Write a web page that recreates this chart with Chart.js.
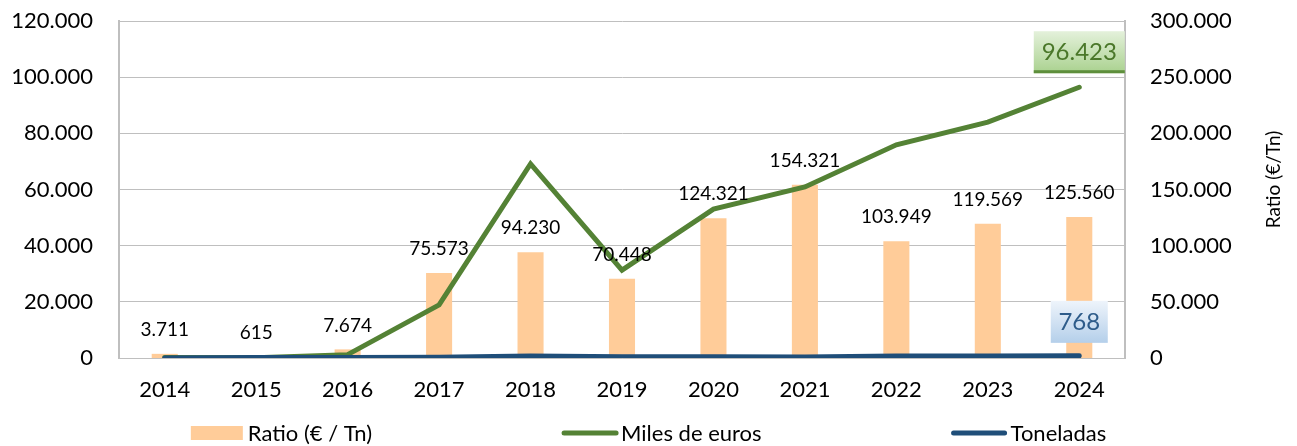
<!DOCTYPE html>
<html>
<head>
<meta charset="utf-8">
<script src="https://cdn.jsdelivr.net/npm/chart.js@4.4.1/dist/chart.umd.min.js"></script>
<style>
  html, body { margin: 0; padding: 0; background: #fff; }
  #wrap { width: 1297px; height: 446px; }
</style>
</head>
<body>
<div id="wrap"><canvas id="chart"></canvas></div>
<script>
// datos
const years = ['2014', '2015', '2016', '2017', '2018', '2019', '2020', '2021', '2022', '2023', '2024'];
const ratio = [3711, 615, 7674, 75573, 94230, 70448, 124321, 154321, 103949, 119569, 125560];
const milesEuros = [150, 100, 1200, 18900, 69100, 31300, 53000, 60900, 75900, 84000, 96423];
const toneladas = [40, 160, 156, 250, 733, 444, 426, 395, 730, 703, 768];

const FONT = 'Lato, "Liberation Sans", sans-serif';
const GRID = '#BFBFBF';
const C_BAR = '#FFCC99';
const C_EUR = '#548235';
const C_TON = '#1F4E79';

// formato con punto de miles
function fmt(v) {
  return String(Math.round(v)).replace(/\B(?=(\d{3})+(?!\d))/g, '.');
}

function drawBox(ctx, cx, cy, w, h, top, bottom, edge, textColor, text) {
  const x = cx - w / 2, y = cy - h / 2;
  const grad = ctx.createLinearGradient(0, y, 0, y + h);
  grad.addColorStop(0, top);
  grad.addColorStop(1, bottom);
  ctx.fillStyle = grad;
  ctx.fillRect(x, y, w, h);
  if (edge) {
    ctx.fillStyle = edge;
    ctx.fillRect(x, y + h - 3, w, 3);
  }
  ctx.fillStyle = textColor;
  ctx.font = '24px ' + FONT;
  ctx.textAlign = 'center';
  ctx.textBaseline = 'middle';
  ctx.fillText(text, cx, cy);
}

const labelPlugin = {
  id: 'labelPlugin',
  afterDatasetsDraw(chart) {
    const ctx = chart.ctx;
    ctx.save();
    // etiquetas de las barras
    ctx.font = '19px ' + FONT;
    ctx.fillStyle = '#000';
    ctx.textAlign = 'center';
    ctx.textBaseline = 'middle';
    chart.getDatasetMeta(0).data.forEach((bar, i) => {
      ctx.fillText(fmt(ratio[i]), bar.x, bar.y - 24);
    });
    // último valor de cada línea
    const last = years.length - 1;
    const pe = chart.getDatasetMeta(1).data[last];
    drawBox(ctx, pe.x, pe.y - 35, 91, 42, '#E4F1DB', '#A9D18E', '#5E8F3C', '#4A7729', fmt(milesEuros[last]));
    const pt = chart.getDatasetMeta(2).data[last];
    drawBox(ctx, pt.x, pt.y - 34, 57, 42, '#EEF4FB', '#B4CFEA', null, '#2E5C8A', fmt(toneladas[last]));
    ctx.restore();
  },
  afterDraw(chart) {
    const ctx = chart.ctx;
    const area = chart.chartArea;
    ctx.save();
    // título del eje derecho
    ctx.font = '19px ' + FONT;
    ctx.fillStyle = '#000';
    ctx.textAlign = 'center';
    ctx.textBaseline = 'middle';
    ctx.translate(1274, (area.top + area.bottom) / 2 - 10);
    ctx.rotate(-Math.PI / 2);
    ctx.fillText('Ratio (€/Tn)', 0, 0);
    ctx.restore();

    // leyenda
    ctx.save();
    ctx.font = '22px ' + FONT;
    ctx.textBaseline = 'middle';
    ctx.textAlign = 'left';
    const items = [
      { text: 'Ratio (€ / Tn)', color: C_BAR, type: 'box', mw: 52, gap: 5 },
      { text: 'Miles de euros', color: C_EUR, type: 'line', mw: 56, gap: 3 },
      { text: 'Toneladas', color: C_TON, type: 'line', mw: 55, gap: 4 }
    ];
    const spacing = 190;
    let total = 0;
    items.forEach((it, i) => {
      it.w = it.mw + it.gap + ctx.measureText(it.text).width;
      total += it.w + (i ? spacing : 0);
    });
    let x = (chart.width - total) / 2;
    const y = 433;
    items.forEach(it => {
      if (it.type === 'box') {
        ctx.fillStyle = it.color;
        ctx.fillRect(x, y - 7, it.mw, 14);
      } else {
        ctx.strokeStyle = it.color;
        ctx.lineWidth = 5;
        ctx.lineCap = 'round';
        ctx.beginPath();
        ctx.moveTo(x + 2, y);
        ctx.lineTo(x + it.mw - 2, y);
        ctx.stroke();
      }
      ctx.fillStyle = '#000';
      ctx.fillText(it.text, x + it.mw + it.gap, y + 1);
      x += it.w + spacing;
    });
    ctx.restore();
  }
};

new Chart(document.getElementById('chart').getContext('2d'), {
  type: 'bar',
  data: {
    labels: years,
    datasets: [
      {
        type: 'bar',
        label: 'Ratio (€ / Tn)',
        data: ratio,
        yAxisID: 'y1',
        backgroundColor: C_BAR,
        barPercentage: 0.285,
        categoryPercentage: 1,
        order: 3
      },
      {
        type: 'line',
        label: 'Miles de euros',
        data: milesEuros,
        yAxisID: 'y',
        borderColor: C_EUR,
        borderWidth: 5,
        pointRadius: 0,
        tension: 0,
        borderCapStyle: 'round',
        order: 2
      },
      {
        type: 'line',
        label: 'Toneladas',
        data: toneladas,
        yAxisID: 'y',
        borderColor: C_TON,
        borderWidth: 5,
        pointRadius: 0,
        tension: 0,
        borderCapStyle: 'round',
        order: 1
      }
    ]
  },
  options: {
    responsive: true,
    maintainAspectRatio: false,
    animation: false,
    devicePixelRatio: 1,
    layout: { padding: { top: 21, bottom: 44, left: 0, right: 0 } },
    plugins: {
      legend: { display: false },
      tooltip: { enabled: false }
    },
    scales: {
      x: {
        offset: true,
        grid: { display: false },
        border: { color: GRID },
        ticks: { color: '#000', font: { family: FONT, size: 22 }, padding: 11 },
        afterFit: s => { s.height = 44; }
      },
      y: {
        position: 'left',
        min: 0,
        max: 120000,
        grid: { color: GRID, drawTicks: false },
        border: { color: GRID, width: 2 },
        ticks: {
          stepSize: 20000,
          color: '#000',
          font: { family: FONT, size: 22 },
          padding: 26,
          callback: v => fmt(v)
        },
        afterFit: s => { s.width = 119; s.paddingTop = 0; s.paddingBottom = 0; }
      },
      y1: {
        position: 'right',
        min: 0,
        max: 300000,
        grid: { display: false, drawTicks: false },
        border: { color: GRID, width: 2 },
        ticks: {
          stepSize: 50000,
          color: '#000',
          font: { family: FONT, size: 22 },
          padding: 25,
          callback: v => fmt(v)
        },
        afterFit: s => { s.width = 172; s.paddingTop = 0; s.paddingBottom = 0; }
      }
    }
  },
  plugins: [labelPlugin]
});
</script>
</body>
</html>
